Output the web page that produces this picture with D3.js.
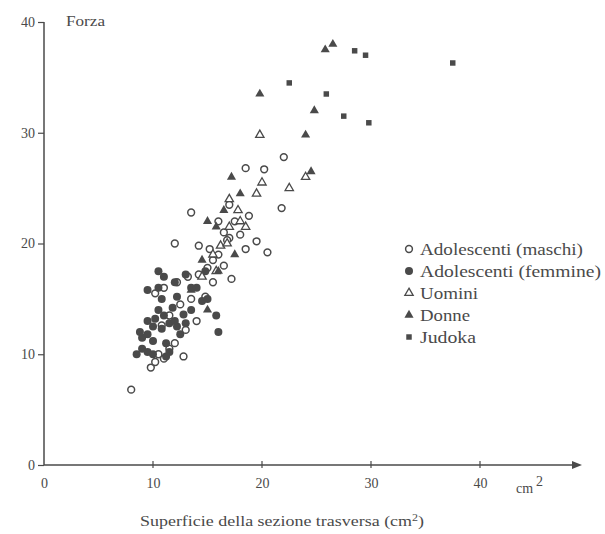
<!DOCTYPE html>
<html><head><meta charset="utf-8">
<script src="https://cdn.jsdelivr.net/npm/d3@7"></script>
<style>body{margin:0;background:#fff}svg{display:block}</style>
</head><body><svg id="c" width="605" height="534"></svg>
<script>
const xTicks = [0, 10, 20, 30, 40];
const yTicks = [0, 10, 20, 30, 40];
const seriesNames = ["Adolescenti (maschi)", "Adolescenti (femmine)", "Uomini", "Donne", "Judoka"];
const maschi = [[8.0,6.8],[9.8,8.8],[10.2,9.3],[11.0,9.6],[12.8,9.8],[10.5,10.0],[11.5,10.5],[12.0,11.0],[13.0,12.2],[10.8,12.6],[11.5,13.5],[12.5,14.5],[13.5,15.0],[14.8,15.2],[10.2,15.5],[11.0,16.0],[12.2,16.5],[13.2,17.0],[14.2,17.2],[15.0,17.8],[15.5,18.5],[16.5,18.0],[17.2,16.8],[16.0,19.0],[15.2,19.5],[14.2,19.8],[12.0,20.0],[17.0,20.5],[18.0,20.8],[18.5,19.5],[16.5,21.0],[17.5,22.0],[18.8,22.5],[17.0,23.5],[13.5,22.8],[20.5,19.2],[19.5,20.2],[16.0,22.0],[21.8,23.2],[18.5,26.8],[20.2,26.7],[22.0,27.8],[16.8,20.3],[15.5,16.5],[14.0,13.0]];
const femmine = [[8.5,10.0],[9.0,10.5],[9.5,10.2],[10.0,10.0],[11.5,10.2],[9.0,11.5],[9.5,11.8],[10.0,11.2],[11.2,11.0],[8.8,12.0],[10.0,12.5],[10.8,12.3],[11.5,12.8],[12.2,12.5],[13.0,12.8],[9.5,13.0],[10.2,13.2],[11.0,13.5],[12.0,13.0],[12.8,13.6],[10.5,14.0],[11.8,14.2],[13.5,14.0],[10.8,15.0],[14.5,14.8],[9.5,15.8],[10.5,16.0],[11.0,17.0],[10.5,17.5],[12.0,16.5],[14.0,16.0],[13.0,17.2],[15.0,15.0],[16.0,12.0],[15.8,13.5],[12.5,11.8],[11.2,9.8],[13.5,16.0],[14.8,17.5],[12.2,15.2]];
const uomini = [[14.5,17.0],[15.5,19.0],[16.2,19.8],[17.0,21.5],[17.8,23.0],[17.0,24.0],[18.5,21.5],[16.8,20.0],[19.5,24.5],[20.0,25.5],[22.5,25.0],[19.8,29.8],[24.0,26.0],[18.0,22.0],[15.8,17.5]];
const donne = [[13.5,15.8],[15.0,22.0],[15.8,21.5],[16.5,23.0],[17.2,26.0],[18.0,24.5],[19.8,33.5],[24.8,32.0],[24.0,29.8],[24.5,26.5],[25.8,37.5],[26.5,38.0],[15.0,14.0],[16.0,17.5],[14.5,18.5],[17.5,19.0]];
const judoka = [[28.5,37.4],[29.5,37.0],[37.5,36.3],[22.5,34.5],[25.9,33.5],[27.5,31.5],[29.8,30.9]];
const legendWidths = [163, 181, 58, 50, 56];

const svg = d3.select("#c");
const ink = "#4a4a4a";
const font = "'Liberation Serif', 'DejaVu Serif', serif";
const x = d3.scaleLinear().domain([0, 40]).range([44, 480]);
const y = d3.scaleLinear().domain([0, 40]).range([465, 22]);

// axes
const xAxis = svg.append("g").attr("transform", `translate(0,${y(0)})`)
  .call(d3.axisBottom(x).tickValues(xTicks).tickSize(0).tickPadding(13));
xAxis.select(".domain").remove();
xAxis.selectAll("text").attr("font-family", font).attr("font-size", 14).attr("fill", ink);
svg.append("line").attr("x1", x(0)).attr("x2", 572).attr("y1", y(0)).attr("y2", y(0))
  .attr("stroke", ink).attr("stroke-width", 1.5);
svg.append("path").attr("d", `M572,${y(0)-4}L582,${y(0)}L572,${y(0)+4}Z`).attr("fill", ink);
xTicks.filter(d => d > 0).forEach(d => {
  svg.append("line").attr("x1", x(d)).attr("x2", x(d)).attr("y1", y(0)-4).attr("y2", y(0)+3)
    .attr("stroke", ink).attr("stroke-width", 1.2);
});

const yAxis = svg.append("g").attr("transform", `translate(${x(0)},0)`)
  .call(d3.axisLeft(y).tickValues(yTicks).tickSize(6).tickPadding(3));
yAxis.select(".domain").remove();
yAxis.selectAll("line").attr("stroke", ink).attr("stroke-width", 1.2);
yAxis.selectAll("text").attr("font-family", font).attr("font-size", 14).attr("fill", ink);
svg.append("line").attr("x1", x(0)).attr("x2", x(0)).attr("y1", y(40)).attr("y2", y(0))
  .attr("stroke", ink).attr("stroke-width", 1.5);

svg.append("text").attr("x", 66).attr("y", y(40)+4).text("Forza")
  .attr("font-family", font).attr("font-size", 14).attr("fill", ink)
  .attr("textLength", 39).attr("lengthAdjust", "spacingAndGlyphs");
const cm = svg.append("text").attr("x", 516).attr("y", y(0)+28)
  .attr("font-family", font).attr("font-size", 14).attr("fill", ink);
cm.append("tspan").text("cm");
cm.append("tspan").text("2").attr("dy", -7).attr("dx", 3);
const xt = svg.append("text").attr("x", 140).attr("y", 526)
  .attr("font-family", font).attr("font-size", 15).attr("fill", ink)
  .attr("textLength", 284).attr("lengthAdjust", "spacingAndGlyphs");
xt.append("tspan").text("Superficie della sezione trasversa (cm");
xt.append("tspan").text("2").attr("font-size", 10).attr("dy", -5);
xt.append("tspan").text(")").attr("dy", 5);

// markers
const sym = {
  "Adolescenti (maschi)": (g, cx, cy) => g.append("circle").attr("cx", cx).attr("cy", cy).attr("r", 3.4).attr("fill", "#fff").attr("stroke", ink).attr("stroke-width", 1.5),
  "Adolescenti (femmine)": (g, cx, cy) => g.append("circle").attr("cx", cx).attr("cy", cy).attr("r", 4).attr("fill", ink),
  "Uomini": (g, cx, cy) => g.append("path").attr("d", d3.symbol(d3.symbolTriangle, 30)()).attr("transform", `translate(${cx},${cy})`).attr("fill", "#fff").attr("stroke", ink).attr("stroke-width", 1.3),
  "Donne": (g, cx, cy) => g.append("path").attr("d", d3.symbol(d3.symbolTriangle, 36)()).attr("transform", `translate(${cx},${cy})`).attr("fill", ink),
  "Judoka": (g, cx, cy) => g.append("path").attr("d", d3.symbol(d3.symbolSquare, 30)()).attr("transform", `translate(${cx},${cy})`).attr("fill", ink)
};
const data = [maschi, femmine, uomini, donne, judoka];
const pg = svg.append("g");
data.forEach((arr, i) => {
  arr.forEach(d => sym[seriesNames[i]](pg, x(d[0]), y(d[1])));
});

// legend
const lg = svg.append("g");
seriesNames.forEach((n, i) => {
  const ly = 250 + i * 22;
  sym[n](lg, 409, ly - 1);
  lg.append("text").attr("x", 420).attr("y", ly + 5).text(n)
    .attr("font-family", font).attr("font-size", 16).attr("fill", ink)
    .attr("textLength", legendWidths[i]).attr("lengthAdjust", "spacingAndGlyphs");
});
</script></body></html>
